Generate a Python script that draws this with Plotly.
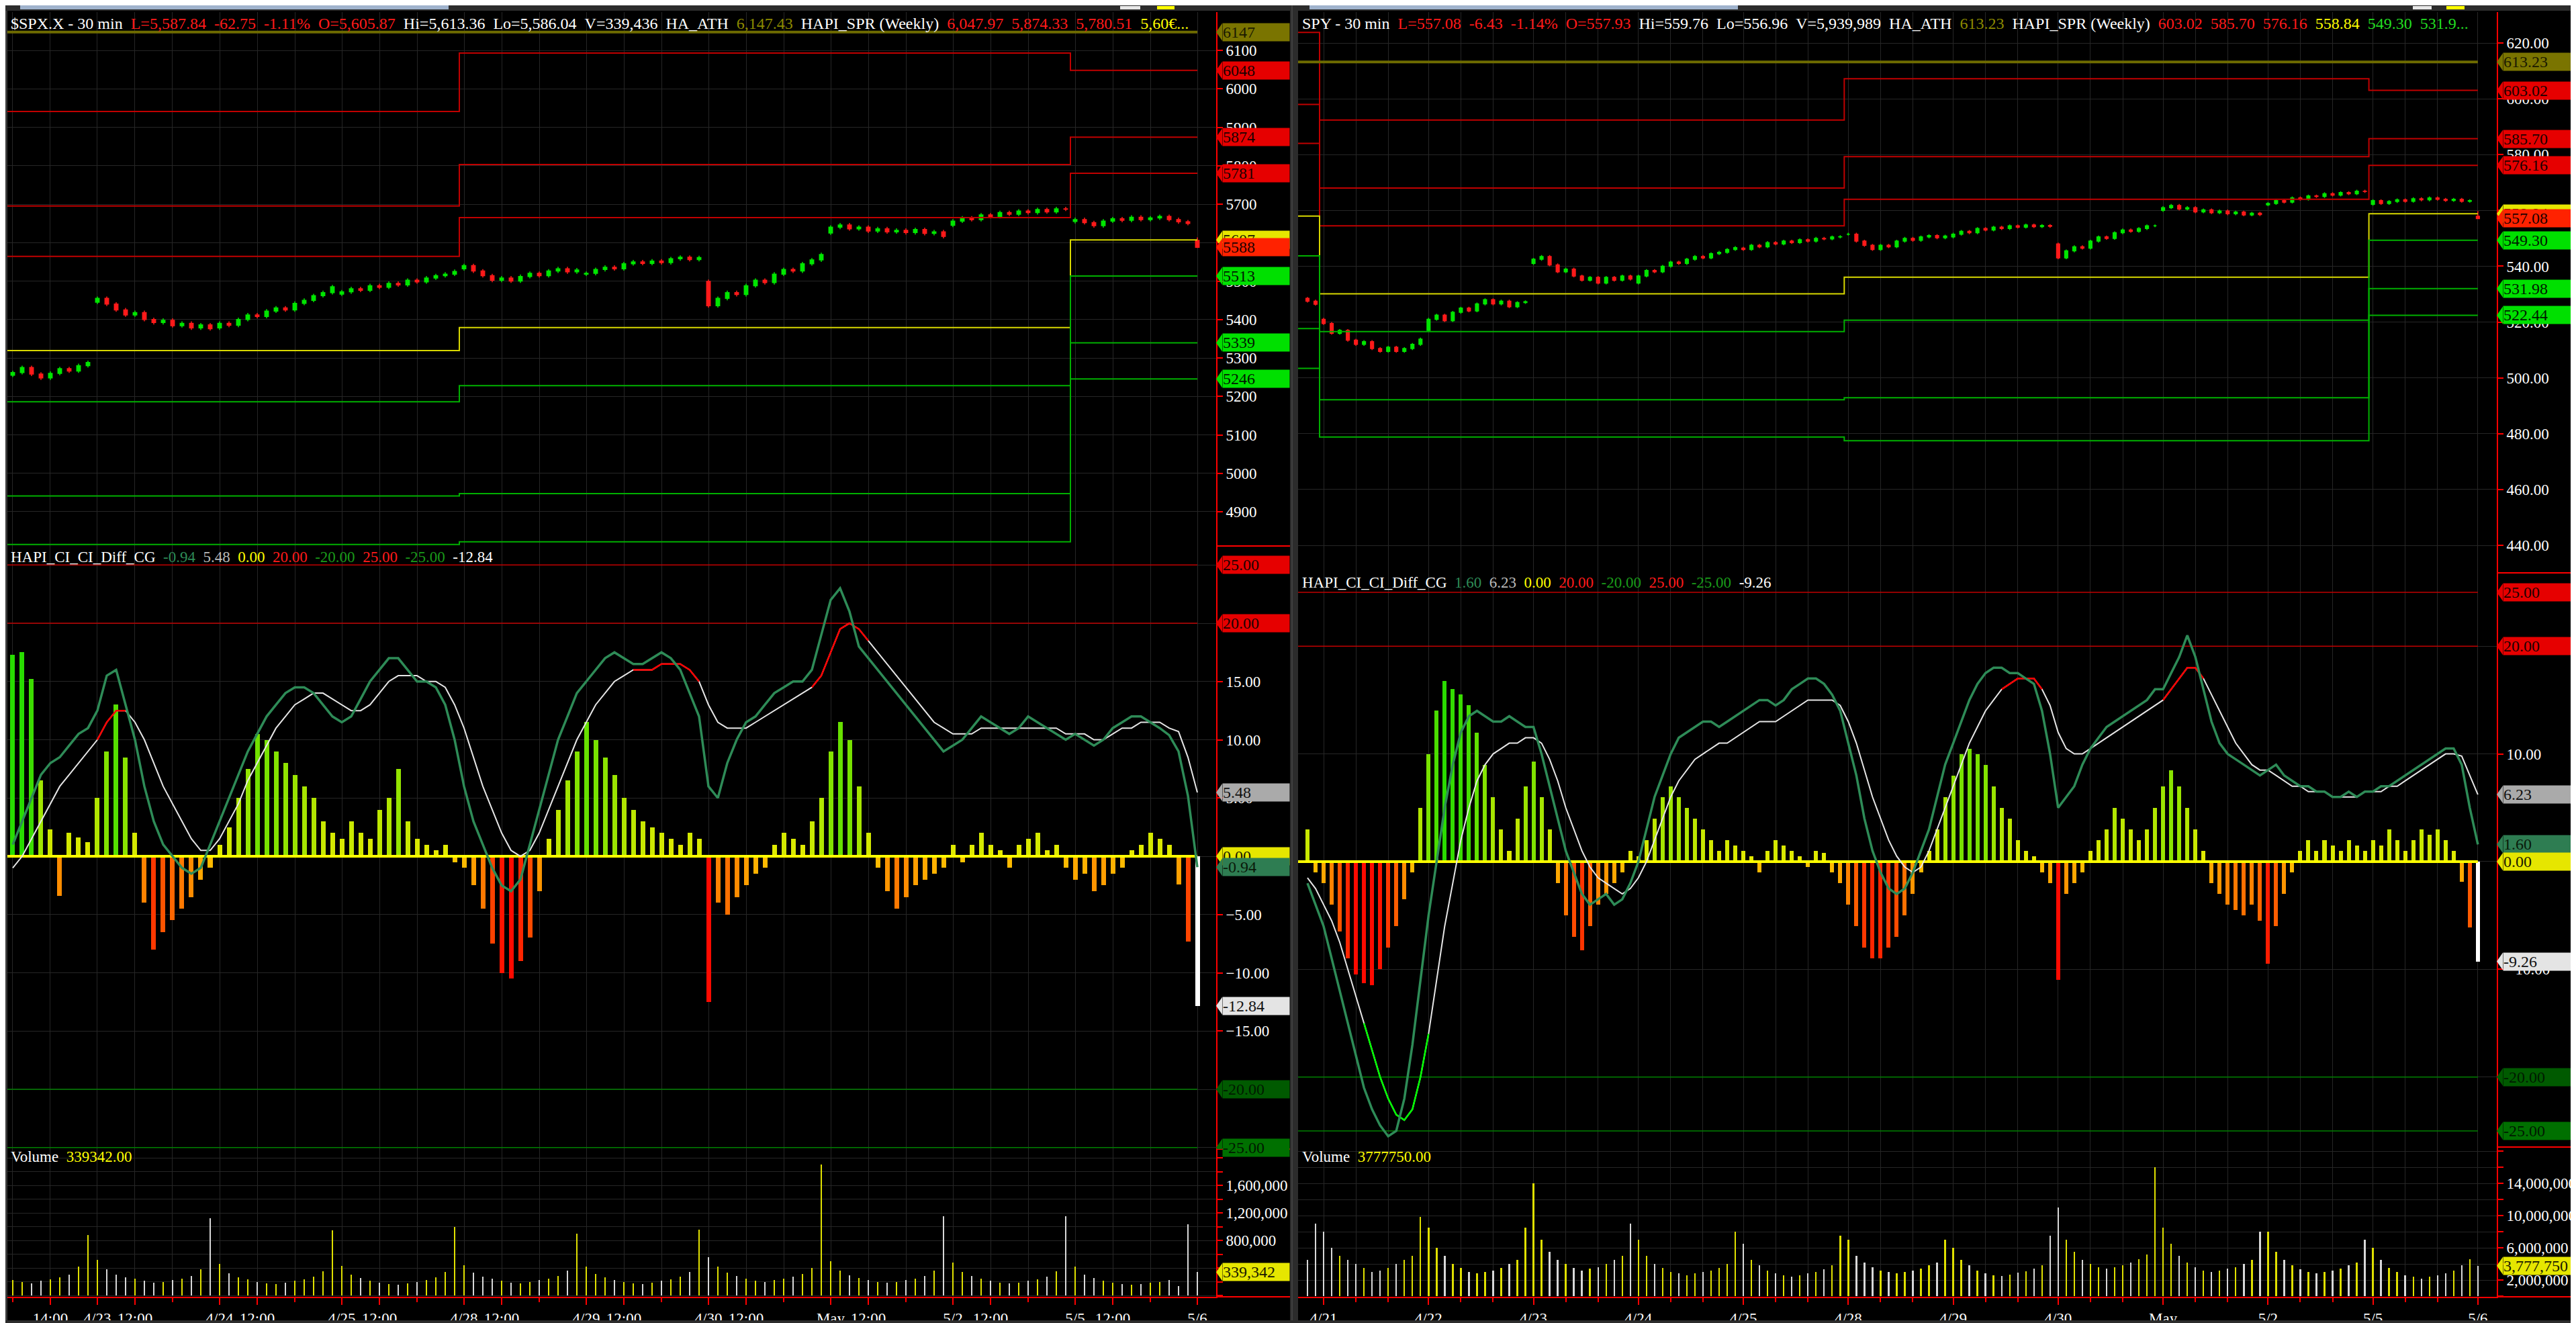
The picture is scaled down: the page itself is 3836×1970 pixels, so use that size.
import plotly.graph_objects as go

W, H = 3836, 1970
FONT = "Liberation Serif"
RED = "#ff1a1a"
OLIVE = "#8c8a00"
YEL = "#ffff00"
GRN = "#22dd22"

SESSION = ["10:00", "10:30", "11:00", "11:30", "12:00", "12:30", "13:00",
           "13:30", "14:00", "14:30", "15:00", "15:30", "16:00"]

# ======================= $SPX.X (left) =======================
spx_day_labels = ["4/22", "4/23", "4/24", "4/25", "4/28", "4/29", "4/30", "May", "5/2", "5/5", "5/6"]
spx_day_open = [5255, 5445, 5378, 5466, 5532, 5518, 5499, 5625, 5645, 5655, 5605.87]
spx_close_by_day = [
    [5262, 5275, 5258, 5248, 5260, 5272, 5266, 5280, 5288],
    [5455, 5440, 5425, 5412, 5418, 5400, 5392, 5398, 5384, 5390, 5378, 5386, 5376],
    [5390, 5385, 5400, 5412, 5408, 5422, 5430, 5425, 5442, 5450, 5462, 5470, 5485],
    [5472, 5480, 5476, 5488, 5484, 5494, 5490, 5502, 5498, 5508, 5514, 5518, 5525],
    [5540, 5526, 5514, 5502, 5508, 5500, 5512, 5520, 5514, 5526, 5532, 5524, 5529],
    [5520, 5530, 5536, 5532, 5545, 5550, 5546, 5552, 5548, 5558, 5562, 5556, 5561],
    [5436, 5455, 5470, 5465, 5488, 5502, 5496, 5518, 5530, 5526, 5545, 5555, 5569],
    [5640, 5646, 5636, 5640, 5630, 5636, 5628, 5632, 5626, 5634, 5624, 5628, 5616],
    [5656, 5664, 5660, 5672, 5668, 5678, 5674, 5682, 5678, 5686, 5680, 5688, 5687],
    [5660, 5652, 5644, 5656, 5662, 5658, 5666, 5660, 5664, 5668, 5660, 5654, 5650],
    [5587.84],
]
spx_wick = 5.0
spx_last_high = 5613.36
spx_last_low = 5586.04

spx_hist_by_day = [
    [17.3, 17.5, 15.2, 6.5, 2.3, -3.4, 2.0, 1.6, 1.2],
    [5, 9, 13, 8.5, 2, -4, -8, -6.5, -5.5, -4.5, -3.5, -2, -1],
    [1, 2.5, 5, 7.5, 10.5, 10, 9, 8, 7, 6, 5, 3, 2],
    [1.5, 3, 2, 1.5, 4, 5, 7.5, 3, 1.5, 1, 0.5, 1, -0.5],
    [-1, -2.5, -4.5, -7.5, -10, -10.5, -9, -7, -3, 1.5, 4, 6.5, 9],
    [11.5, 10, 8.5, 7, 5, 4, 3, 2.5, 2, 1.5, 1, 2, 1.5],
    [-12.5, -4, -5, -3.5, -2.5, -1.5, -1, 1, 2, 1.5, 1, 3, 5],
    [9, 11.5, 10, 6, 2, -1, -3, -4.5, -3.5, -2.5, -2, -1.5, -1],
    [1, -0.5, 1, 2, 1, 0.5, -1, 1, 1.5, 2, 0.5, 1, -1],
    [-2, -1.5, -3, -2.5, -1.5, -1, 0.5, 1, 2, 1.5, 1, -2.4, -7.3],
    [-12.84],
]
spx_fast_by_day = [
    [1, 3, 5, 7, 8, 8.5, 9.5, 10.5, 11],
    [12.5, 15.5, 16, 13, 10, 6, 3, 1, 0, -1, -1.5, -1, 1],
    [3, 5, 7, 9, 10.5, 12, 13, 14, 14.5, 14.5, 14, 13, 12],
    [11.5, 12, 13.5, 15, 16, 17, 17, 16, 15, 15, 14.5, 13, 10],
    [6, 3, 1, -1, -2.5, -3, -2, 1, 4, 7, 10, 12, 14],
    [15, 16, 17, 17.5, 17, 16.5, 16.5, 17, 17.5, 17, 16, 14, 12],
    [6, 5, 8, 10, 11.5, 12, 13, 14, 14.5, 15, 15, 16, 19],
    [22, 23, 21, 18, 17, 16, 15, 14, 13, 12, 11, 10, 9],
    [9.5, 10, 11, 12, 11.5, 11, 10.5, 11, 12, 11.5, 11, 10.5, 10],
    [10.5, 10, 9.5, 10, 11, 11.5, 12, 12, 11.5, 11, 10.4, 9, 5.2],
    [-0.94],
]
spx_slow_by_day = [
    [-1, 0, 1.5, 3, 4.5, 6, 7, 8, 9],
    [10, 11.5, 12.5, 12.5, 11.5, 10, 8, 6, 4.5, 3, 1.5, 0.5, 0.5],
    [1.5, 3, 4.5, 6.5, 8, 9.5, 11, 12, 13, 13.5, 14, 14, 13.5],
    [13, 12.5, 12.5, 13, 14, 15, 15.5, 15.5, 15.5, 15, 15, 14.5, 13],
    [11, 8.5, 6, 4, 2, 0.5, 0, 0.5, 2, 4, 6, 8, 10],
    [11.5, 13, 14, 15, 15.5, 16, 16, 16, 16.5, 16.5, 16.5, 16, 15],
    [13, 11.5, 11, 11, 11, 11.5, 12, 12.5, 13, 13.5, 14, 14.5, 15.5],
    [17.5, 19.5, 20, 19.5, 18.5, 17.5, 16.5, 15.5, 14.5, 13.5, 12.5, 11.5, 11],
    [10.5, 10.5, 10.5, 11, 11, 11, 11, 11, 11, 11, 11, 11, 10.5],
    [10.5, 10.5, 10, 10, 10.5, 11, 11, 11.5, 11.5, 11.5, 11, 10.7, 8.5],
    [5.48],
]
spx_slow_red_ranges = [(9, 12), (66, 73), (85, 91)]
spx_vol_k = [
    [220, 200, 180, 210, 230, 260, 300, 420, 880],
    [520, 380, 300, 260, 240, 210, 190, 200, 220, 240, 280, 380, 1120],
    [460, 320, 260, 230, 200, 180, 170, 190, 210, 230, 270, 350, 950],
    [430, 300, 250, 210, 190, 170, 160, 180, 200, 220, 260, 340, 1000],
    [440, 330, 270, 240, 210, 190, 180, 200, 220, 240, 280, 360, 900],
    [420, 310, 260, 220, 200, 180, 170, 190, 210, 230, 270, 340, 960],
    [560, 420, 330, 280, 240, 210, 200, 220, 240, 270, 310, 400, 1900],
    [500, 360, 290, 250, 220, 200, 190, 200, 220, 240, 280, 360, 1150],
    [480, 340, 280, 240, 210, 190, 180, 190, 210, 230, 270, 350, 1150],
    [420, 300, 250, 210, 190, 170, 160, 170, 190, 200, 220, 137, 1034],
    [339.342],
]
spx_ath = 6147.43
spx_week_bars = [48, 65, 14]
# red1, red2, red3, yellow, green1, green2, green3
spx_levels = [
    [5941, 5695, 5564, 5319, 5186, 4941, 4815],
    [6093, 5803, 5665, 5379, 5228, 4947, 4822],
    [6047.97, 5874.33, 5780.51, 5606.85, 5513.03, 5339.39, 5245.57],
]

# ======================= SPY (right) =======================
spy_day_labels = ["4/17", "4/21", "4/22", "4/23", "4/24", "4/25", "4/28", "4/29", "4/30", "May", "5/2", "5/5", "5/6"]
spy_day_open = [528.5, 521, 517, 541, 534, 546.5, 551.5, 550.5, 548, 560, 562, 562.2, 557.93]
spy_close_by_day = [
    [527.5, 526.4],
    [519.5, 516, 517, 513.5, 512, 513, 510.5, 509.5, 511, 509.5, 510.5, 512, 513.9],
    [521, 522.5, 520.5, 523.5, 525, 524, 526.5, 528, 526.5, 527.5, 525.5, 527, 527.3],
    [542.5, 543.5, 540.5, 538, 539, 536.5, 535, 536, 534, 536, 535, 536.5, 535.4],
    [536.5, 538.5, 538, 540, 541.5, 541, 542.5, 543.5, 543, 544.5, 545, 546, 546.7],
    [546, 547.5, 547, 548.5, 548, 549, 548.5, 549.5, 549, 550, 549.8, 550.5, 550.6],
    [551.5, 549, 547.5, 546, 547.5, 547, 549, 550, 549.3, 550.5, 551, 550.2, 550.8],
    [551.5, 552.5, 552, 553.5, 553, 554, 553.5, 554.5, 554, 554.8, 554.2, 554.6, 554.3],
    [543, 545.5, 547, 546.5, 549, 550.5, 550, 552, 553, 552.5, 553.5, 554.5, 554.5],
    [561, 561.8, 560.5, 561, 559.5, 560.2, 559.2, 559.8, 558.8, 559.4, 558.4, 559, 558.5],
    [562.5, 563.5, 563, 564.5, 564, 565.2, 565, 566, 565.5, 566.4, 566, 566.9, 566.8],
    [563.5, 562.5, 563.2, 563.8, 563.3, 564.2, 563.8, 564.5, 564, 563.6, 564, 563.3, 563.5],
    [557.08],
]
spy_wick = 0.5
spy_last_high = 559.76
spy_last_low = 556.96

spy_hist_by_day = [
    [3, -1],
    [-2, -4, -6.5, -9, -10.5, -11.3, -11.5, -10, -8, -6, -3.5, -1, 5],
    [10, 14, 16.8, 16, 15.5, 14.5, 12, 9, 6, 3, 1, 4, 7],
    [9.3, 6, 3, -2, -5, -7, -8.2, -6, -4, -3, -2, -1, 1],
    [0.5, 2, 4, 6, 7, 6, 5, 4, 3, 2, 1, 2, 1.5],
    [1, 0.5, -1, 1, 2, 1.5, 1, 0.5, -0.5, 1, 0.8, -1, -2],
    [-4, -6, -8, -9, -9, -8, -7, -5, -3, -1, 1, 3, 6],
    [8, 10, 10.5, 10, 9, 7, 5, 4, 2, 1, 0.5, -1, -2],
    [-11, -3, -2, -1, 1, 2, 3, 5, 4, 3, 2, 3, 5],
    [7, 8.5, 7, 5, 3, 1, -2, -3, -4, -4.5, -5, -4, -5.5],
    [-9.5, -6, -3, -1, 1, 2, 1, 2, 1.5, 1, 2, 1.5, 1],
    [2, 1.5, 3, 2, 1, 2, 3, 2.5, 3, 2, 1, -1.9, -6.1],
    [-9.26],
]
spy_fast_by_day = [
    [-2, -4],
    [-6, -9, -12, -15, -18, -21, -23, -24.5, -25.5, -25, -22, -17, -11],
    [-5, 0, 5, 9, 12, 13.5, 14, 13.5, 13, 13, 13.5, 13, 12.5],
    [12.5, 10, 7, 4, 1, -1, -3, -4, -3.5, -3, -4, -3.5, -2],
    [0, 3, 6, 8, 10, 11.5, 12, 12.5, 13, 13, 12.5, 13, 13.5],
    [14, 14.5, 15, 15, 14.5, 15, 16, 16.5, 17, 17, 16.5, 15.5, 14],
    [11, 8, 4, 1, -1, -2.5, -3, -2.5, -1, 1, 3, 6, 9],
    [11, 13, 15, 16.5, 17.5, 18, 18, 17.5, 17.5, 17, 16.5, 14, 10],
    [5, 6, 7, 9, 10.5, 11.5, 12.5, 13, 13.5, 14, 14.5, 15, 16],
    [16, 17.5, 19, 21, 19, 16, 13, 11, 10, 9.5, 9, 8.5, 8],
    [8.5, 9, 8, 7.5, 7, 7, 6.5, 6.5, 6, 6, 6.5, 6, 6.5],
    [6.5, 7, 7, 7.5, 8, 8.5, 9, 9.5, 10, 10.5, 10.5, 9, 5],
    [1.6],
]
spy_slow_by_day = [
    [-1.5, -2.5],
    [-4, -5.5, -7.5, -10, -12.5, -15, -17.5, -20, -22, -23.5, -24, -23, -20],
    [-16, -11, -6, -2, 2, 5, 7.5, 9, 10, 10.5, 11, 11, 11.5],
    [11.5, 11, 9.5, 7.5, 5, 3, 1, -0.5, -1.5, -2, -2.5, -3, -2.5],
    [-1.5, 0, 2, 4, 6, 7.5, 8.5, 9.5, 10, 10.5, 11, 11, 11.5],
    [12, 12.5, 13, 13, 13, 13.5, 14, 14.5, 15, 15, 15, 15, 14.5],
    [13, 11, 8.5, 6, 4, 2, 0.5, -0.5, -1, -0.5, 1, 3, 5],
    [7, 9, 11, 12.5, 14, 15, 16, 16.5, 17, 17, 17, 16, 14.5],
    [12, 10.5, 10, 10, 10.5, 11, 11.5, 12, 12.5, 13, 13.5, 14, 14.5],
    [15, 16, 17, 18, 18, 17, 15.5, 14, 12.5, 11, 10, 9, 8.5],
    [8.5, 8, 7.5, 7, 7, 6.5, 6.5, 6.5, 6, 6, 6, 6, 6.5],
    [6.5, 6.5, 7, 7, 7.5, 8, 8.5, 9, 9.5, 10, 10, 9.8, 8],
    [6.23],
]
spy_slow_red_ranges = [(86, 91), (106, 111)]
spy_slow_green_ranges = [(7, 15)]
spy_vol_m = [
    [4.5, 9],
    [8, 6, 5, 4.5, 4, 3.5, 3, 3.2, 3.5, 4, 4.5, 5, 9.8],
    [8.5, 6, 5, 4, 3.5, 3, 2.8, 3, 3.2, 3.5, 4, 4.5, 8.5],
    [14, 7, 5.5, 4.5, 4, 3.5, 3.2, 3.4, 3.6, 4, 4.5, 5, 9],
    [7, 5, 4, 3.5, 3, 2.8, 2.6, 2.8, 3, 3.2, 3.5, 4, 8],
    [6.5, 4.5, 3.8, 3.2, 2.8, 2.6, 2.4, 2.6, 2.8, 3, 3.3, 3.8, 7.5],
    [7, 5, 4.2, 3.6, 3.2, 3, 2.8, 3, 3.2, 3.4, 3.8, 4.2, 7],
    [6, 4.5, 3.8, 3.2, 2.8, 2.6, 2.5, 2.7, 2.9, 3.1, 3.4, 3.8, 7.5],
    [11, 7, 5.5, 4.5, 4, 3.6, 3.4, 3.6, 3.8, 4.2, 4.6, 5.2, 16],
    [8.5, 6.5, 5, 4.2, 3.6, 3.2, 3, 3.2, 3.4, 3.6, 4, 4.5, 8],
    [8, 5.5, 4.5, 3.8, 3.3, 3, 2.8, 3, 3.2, 3.4, 3.8, 4.2, 7],
    [6, 4.5, 3.5, 3, 2.6, 2.4, 2.2, 2.4, 2.6, 2.8, 3.2, 3.8, 4.6],
    [3.77775],
]
spy_ath = 613.23
spy_week_bars = [2, 65, 65, 14]
spy_levels = [
    [623.8, 598.0, 584.0, 558.0, 543.7, 517.7, 503.4],
    [592.4, 568.0, 554.5, 530.1, 516.6, 492.2, 478.8],
    [607.2, 579.3, 564.0, 536.1, 520.7, 492.9, 477.5],
    [603.02, 585.70, 576.16, 558.84, 549.30, 531.98, 522.44],
]

# header texts
spx_header = [("$SPX.X - 30 min", "white"),
              ("L=5,587.84  -62.75  -1.11%  O=5,605.87", RED),
              ("Hi=5,613.36  Lo=5,586.04  V=339,436  HA_ATH", "white"),
              ("6,147.43", OLIVE), ("HAPI_SPR (Weekly)", "white"),
              ("6,047.97  5,874.33  5,780.51", RED), ("5,60\u20ac...", YEL)]
spy_header = [("SPY - 30 min", "white"),
              ("L=557.08  -6.43  -1.14%  O=557.93", RED),
              ("Hi=559.76  Lo=556.96  V=5,939,989  HA_ATH", "white"),
              ("613.23", OLIVE), ("HAPI_SPR (Weekly)", "white"),
              ("603.02  585.70  576.16", RED), ("558.84", YEL), ("549.30  531.9...", GRN)]

# axis tick values (labels shown on the value axes)
spx_price_ticks = [4900, 5000, 5100, 5200, 5300, 5400, 5500, 5600, 5700, 5800, 5900, 6000, 6100]
spx_ind_ticks = [15, 10, 5, -5, -10, -15]
spx_vol_ticks = [400000, 800000, 1200000, 1600000]
spy_price_ticks = [440, 460, 480, 500, 520, 540, 560, 580, 600, 620]
spy_ind_ticks = [10, -10]
spy_vol_ticks = [2000000, 6000000, 10000000, 14000000]


# ======================= helpers =======================
def flat(lst):
    return [v for d in lst for v in d]


def ohlc(day_open, closes_by_day, wick, last_hi, last_lo):
    o, h, l, c = [], [], [], []
    for do, closes in zip(day_open, closes_by_day):
        prev = do
        for cl in closes:
            o.append(prev)
            c.append(cl)
            h.append(max(prev, cl) + wick)
            l.append(min(prev, cl) - wick)
            prev = cl
    h[-1] = last_hi
    l[-1] = last_lo
    return o, h, l, c


def bar_times(closes_by_day):
    times = []
    for d in closes_by_day:
        n = len(d)
        if n == 13 or len(times) > 0:
            times.append(SESSION[:n])
        else:
            times.append(SESSION[13 - n:])
    return times


def hist_colors(vals):
    cols = []
    for v in vals:
        if v >= 0:
            t = min(v / 17.0, 1.0)
            cols.append(f"rgb({int(235 - 195 * t)},{int(235 - 15 * t)},0)")
        else:
            t = min(-v / 10.5, 1.0)
            cols.append(f"rgb(255,{int(205 - 195 * t)},0)")
    cols[-1] = "#ffffff"
    return cols


def seg(vals, ranges):
    out = [None] * len(vals)
    for a, b in ranges:
        for i in range(a, b + 1):
            out[i] = vals[i]
    return out


def span(t, c):
    return f'<span style="color:{c}">{t.replace("  ", "&nbsp;&nbsp;")}</span>'


def header_html(parts):
    return "&nbsp;&nbsp;".join(span(t, c) for t, c in parts)


def pdom(top, bot):
    return [1 - bot / H, 1 - top / H]


# ======================= geometry =======================
L_X = (3, 1803); R_X = (1925, 3710)
L_PANES = [(10, 805), (805, 1703), (1703, 1923)]
R_PANES = [(10, 845), (845, 1700), (1700, 1923)]
L_XR = [-0.571, 128.0]; R_XR = [-1.165, 147.34]
L_YR = [[4810.9, 6199.6], [-25.13, 26.63], [-19500, 2126800]]
R_YR = [[430.15, 631.07], [-26.50, 26.81], [-83000, 18500000]]

fig = go.Figure()
GRID = "#262626"


def build_panel(side, day_labels, day_open, closes, wick, lhi, llo, hist, fast, slow,
                red_ranges, green_ranges, vol, ath, week_bars, levels, xs):
    ax = ["", "2", "3"] if side == "L" else ["4", "5", "6"]
    o, h, l, c = ohlc(day_open, closes, wick, lhi, llo)
    n = len(c)
    idx = list(range(n))
    xmin = (L_XR if side == "L" else R_XR)[0]
    # weekly level lines
    cols = ["#c00000", "#c00000", "#c00000", "#d8d800", "#00b000", "#00b000", "#00b000"]
    for k in range(7):
        px, py = [], []
        s = 0
        for w, nb in enumerate(week_bars):
            x0 = xmin if w == 0 else s - 0.5
            x1 = (n - 1) if w == len(week_bars) - 1 else s + nb - 0.5
            px += [x0, x1]
            py += [levels[w][k], levels[w][k]]
            s += nb
        fig.add_trace(go.Scatter(x=px, y=py, mode="lines", line=dict(color=cols[k], width=2),
                                 xaxis="x" + ax[0], yaxis="y" + ax[0], hoverinfo="skip"))
    fig.add_trace(go.Scatter(x=[xmin, n - 1], y=[ath, ath], mode="lines",
                             line=dict(color="#6e6b00", width=4),
                             xaxis="x" + ax[0], yaxis="y" + ax[0], hoverinfo="skip"))
    fig.add_trace(go.Candlestick(
        x=idx, open=o, high=h, low=l, close=c, whiskerwidth=0,
        increasing=dict(line=dict(color="#00e600", width=1.5), fillcolor="#00e600"),
        decreasing=dict(line=dict(color="#ff1a1a", width=1.5), fillcolor="#ff1a1a"),
        xaxis="x" + ax[0], yaxis="y" + ax[0], hoverinfo="skip"))
    # indicator
    hv = flat(hist)
    fig.add_trace(go.Bar(x=idx, y=hv, marker=dict(color=hist_colors(hv), line=dict(width=0)),
                         width=0.5, xaxis="x" + ax[1], yaxis="y" + ax[1], hoverinfo="skip"))
    for lv, lc, lw in [(25, "#c00000", 1.5), (20, "#c00000", 1.5), (-20, "#008000", 1.5),
                       (-25, "#008000", 1.5), (0, "#ffff00", 4)]:
        fig.add_trace(go.Scatter(x=[xmin, n - 1], y=[lv, lv], mode="lines", line=dict(color=lc, width=lw),
                                 xaxis="x" + ax[1], yaxis="y" + ax[1], hoverinfo="skip"))
    sv = flat(slow)
    fv = flat(fast)
    fig.add_trace(go.Scatter(x=idx, y=sv, mode="lines", line=dict(color="#e6e6e6", width=2),
                             xaxis="x" + ax[1], yaxis="y" + ax[1], hoverinfo="skip"))
    fig.add_trace(go.Scatter(x=idx, y=seg(sv, red_ranges), mode="lines", line=dict(color="#ff0000", width=2.5),
                             xaxis="x" + ax[1], yaxis="y" + ax[1], hoverinfo="skip"))
    fig.add_trace(go.Scatter(x=idx, y=seg(sv, green_ranges), mode="lines", line=dict(color="#00ff00", width=2.5),
                             xaxis="x" + ax[1], yaxis="y" + ax[1], hoverinfo="skip"))
    fig.add_trace(go.Scatter(x=idx, y=fv, mode="lines", line=dict(color="#2e8b57", width=3.5),
                             xaxis="x" + ax[1], yaxis="y" + ax[1], hoverinfo="skip"))
    # volume
    vv = [v * xs for v in flat(vol)]
    vcol = ["#e0e000" if cc >= oo else "#d8d8d8" for oo, cc in zip(o, c)]
    fig.add_trace(go.Bar(x=idx, y=vv, marker=dict(color=vcol, line=dict(width=0)), width=0.2,
                         xaxis="x" + ax[2], yaxis="y" + ax[2], hoverinfo="skip"))
    return o, c, hv, fv, sv, vv


spx = build_panel("L", spx_day_labels, spx_day_open, spx_close_by_day, spx_wick, spx_last_high, spx_last_low,
                  spx_hist_by_day, spx_fast_by_day, spx_slow_by_day, spx_slow_red_ranges, [], spx_vol_k,
                  spx_ath, spx_week_bars, spx_levels, 1000)
spy = build_panel("R", spy_day_labels, spy_day_open, spy_close_by_day, spy_wick, spy_last_high, spy_last_low,
                  spy_hist_by_day, spy_fast_by_day, spy_slow_by_day, spy_slow_red_ranges, spy_slow_green_ranges,
                  spy_vol_m, spy_ath, spy_week_bars, spy_levels, 1e6)


# ======================= axes =======================
def xticks(day_labels, closes_by_day, left):
    times = bar_times(closes_by_day)
    major_v, major_t, minor_v = [], [], []
    i = 0
    for k, (lab, tl) in enumerate(zip(day_labels, times)):
        partial = len(tl) < 13 and k == 0
        for t in tl:
            if partial:
                if left and t == "14:00":
                    major_v.append(i); major_t.append("14:00")
                elif t in ("12:00", "14:00", "10:00"):
                    minor_v.append(i)
            elif t == "10:00":
                major_v.append(i); major_t.append(lab)
            elif t == "12:00":
                if left:
                    major_v.append(i); major_t.append("12:00")
                else:
                    minor_v.append(i)
            elif t == "14:00":
                minor_v.append(i)
            i += 1
    return major_v, major_t, minor_v


lx = xticks(spx_day_labels, spx_close_by_day, True)
rx = xticks(spy_day_labels, spy_close_by_day, False)

layout = dict(width=W, height=H, margin=dict(l=0, r=0, t=0, b=0), paper_bgcolor="black",
              plot_bgcolor="black", showlegend=False, boxgap=0.45, bargap=0,
              font=dict(family=FONT, color="white", size=22))


def xax(dom, rng, ticks, anchor, bottom, match=None):
    d = dict(domain=[dom[0] / W, dom[1] / W], range=rng, anchor=anchor, fixedrange=True,
             tickvals=ticks[0], ticktext=ticks[1], showgrid=True, gridcolor=GRID, gridwidth=1,
             zeroline=False, rangeslider=dict(visible=False),
             minor=dict(tickvals=ticks[2], showgrid=True, gridcolor=GRID, gridwidth=1,
                        ticks="outside" if bottom else "", ticklen=6, tickcolor="red", tickwidth=2))
    if match:
        d["matches"] = match
    if bottom:
        d.update(showticklabels=True, ticks="outside", ticklen=10, tickcolor="red", tickwidth=2,
                 showline=True, linecolor="red", linewidth=2, tickfont=dict(size=23, color="white"))
    else:
        d.update(showticklabels=False, ticks="", showline=False)
    return d


def yax(pane, rng, anchor, fmt, tickvals, grid_dtick, minor_dtick=None):
    d = dict(domain=pdom(*pane), range=rng, anchor=anchor, side="right", fixedrange=True,
             showline=True, linecolor="red", linewidth=2, ticks="outside", ticklen=8,
             tickcolor="red", tickwidth=2, showgrid=True, gridcolor=GRID, gridwidth=1,
             zeroline=False, tickformat=fmt, tickvals=tickvals,
             tickfont=dict(size=23, color="white"))
    d["minor"] = dict(dtick=minor_dtick if minor_dtick else grid_dtick, tick0=0,
                      ticks="outside" if minor_dtick else "", ticklen=8, tickcolor="red",
                      tickwidth=2, showgrid=True, gridcolor=GRID)
    return d


layout["xaxis"] = xax(L_X, L_XR, lx, "y", False)
layout["xaxis2"] = xax(L_X, L_XR, lx, "y2", False, "x")
layout["xaxis3"] = xax(L_X, L_XR, lx, "y3", True, "x")
layout["xaxis4"] = xax(R_X, R_XR, rx, "y4", False)
layout["xaxis5"] = xax(R_X, R_XR, rx, "y5", False, "x4")
layout["xaxis6"] = xax(R_X, R_XR, rx, "y6", True, "x4")
layout["yaxis"] = yax(L_PANES[0], L_YR[0], "x", "d", spx_price_ticks, 100)
layout["yaxis2"] = yax(L_PANES[1], L_YR[1], "x2", ".2f", spx_ind_ticks, 5)
layout["yaxis3"] = yax(L_PANES[2], L_YR[2], "x3", ",d", spx_vol_ticks, 200000, 200000)
layout["yaxis4"] = yax(R_PANES[0], R_YR[0], "x4", ".2f", spy_price_ticks, 20)
layout["yaxis5"] = yax(R_PANES[1], R_YR[1], "x5", ".2f", spy_ind_ticks, 10)
layout["yaxis6"] = yax(R_PANES[2], R_YR[2], "x6", ",d", spy_vol_ticks, 2000000, 2000000)
fig.update_layout(**layout)

# ======================= decorations =======================
shapes = []


def prect(x0, y0, x1, y1, col):
    shapes.append(dict(type="rect", xref="paper", yref="paper", x0=x0 / W, x1=x1 / W,
                       y0=1 - y1 / H, y1=1 - y0 / H, fillcolor=col, line=dict(width=0), layer="above"))


def pline(x0, y0, x1, y1, col, w=2):
    shapes.append(dict(type="line", xref="paper", yref="paper", x0=x0 / W, x1=x1 / W,
                       y0=1 - y0 / H, y1=1 - y1 / H, line=dict(color=col, width=w), layer="above"))


prect(0, 0, 3, H, "#3a3a3a")
prect(1913, 0, 1925, H, "#2c2c2c")
pline(1916, 0, 1916, H, "#555555", 1)
prect(3832, 0, W, H, "#2c2c2c")
prect(0, 1958, W, H, "#2c2c2c")
pline(0, 1963, W, 1963, "#666666", 1)
for x0, x1, blue, white, yel in [(0, 1913, (22, 660), (1660, 1690), (1715, 1741)),
                                 (1925, 3832, (1942, 2580), (3585, 3613), (3635, 3662))]:
    prect(x0, 0, x1, 8, "#2c2c2c")
    prect(blue[0], 0, blue[1], 6, "#9fb2cc")
    prect(white[0], 1, white[1], 6, "#e8e8e8")
    prect(yel[0], 1, yel[1], 6, "#ffff00")
for y in (805, 1703, 1923):
    pline(1803, y, 1913, y, "red", 2)
for y in (845, 1700, 1923):
    pline(3710, y, 3832, y, "red", 2)
fig.update_layout(shapes=shapes)


# ======================= value tags =======================
def add_tag(xtip, xend, yref, pane, rng, v, text, fill, tcol):
    ppu = (pane[1] - pane[0]) / (rng[1] - rng[0])
    hh = 13.0 / ppu
    xb = xtip + 9
    fig.add_shape(type="path", xref="paper", yref=yref,
                  path=f"M {xtip / W},{v} L {xb / W},{v + hh} L {xb / W},{v - hh} Z",
                  fillcolor=fill, line=dict(width=0), layer="above")
    fig.add_annotation(xref="paper", yref=yref, x=xb / W, y=v, xanchor="left", yanchor="middle",
                       text=text, showarrow=False, bgcolor=fill, width=xend - xb - 2, height=26,
                       align="left", borderpad=0, font=dict(family=FONT, size=24, color=tcol))


TAG_RED = "#e60000"; TAG_CUR = "#ff2200"; TAG_YEL = "#e6e600"; TAG_GRN = "#00e000"
TAG_OLV = "#7a7400"; DARK = "#1a0000"


def panel_tags(xtip, xend, ax, panes, rngs, ath, lev, last_c, hv, fv, sv, vv, pfmt):
    p = [("y" + ax[0], panes[0], rngs[0]), ("y" + ax[1], panes[1], rngs[1]), ("y" + ax[2], panes[2], rngs[2])]
    a = p[0]
    add_tag(xtip, xend, *a, ath, pfmt(ath), TAG_OLV, "#1a1a00")
    for k in range(3):
        add_tag(xtip, xend, *a, lev[k], pfmt(lev[k]), TAG_RED, DARK)
    add_tag(xtip, xend, *a, lev[3], pfmt(lev[3]), TAG_YEL, "#1a1a00")
    add_tag(xtip, xend, *a, last_c, pfmt(last_c), TAG_CUR, DARK)
    for k in range(4, 7):
        add_tag(xtip, xend, *a, lev[k], pfmt(lev[k]), TAG_GRN, "#001a00")
    b = p[1]
    add_tag(xtip, xend, *b, 25, "25.00", TAG_RED, DARK)
    add_tag(xtip, xend, *b, 20, "20.00", TAG_RED, DARK)
    add_tag(xtip, xend, *b, sv[-1], f"{sv[-1]:.2f}", "#aaaaaa", "#111111")
    if fv[-1] < 0:
        add_tag(xtip, xend, *b, 0, "0.00", TAG_YEL, "#1a1a00")
        add_tag(xtip, xend, *b, fv[-1], f"{fv[-1]:.2f}", "#2e7d52", "#0a1a0a")
    else:
        add_tag(xtip, xend, *b, fv[-1], f"{fv[-1]:.2f}", "#2e7d52", "#0a1a0a")
        add_tag(xtip, xend, *b, 0, "0.00", TAG_YEL, "#1a1a00")
    add_tag(xtip, xend, *b, hv[-1], f"{hv[-1]:.2f}", "#e4e4e4", "#111111")
    add_tag(xtip, xend, *b, -20, "-20.00", "#005a00", "#001a00")
    add_tag(xtip, xend, *b, -25, "-25.00", "#007000", "#001a00")
    c = p[2]
    add_tag(xtip, xend, *c, vv[-1], f"{vv[-1]:,.0f}", TAG_YEL, "#1a1a00")


panel_tags(1803, 1913, ["", "2", "3"], L_PANES, L_YR, spx_ath, spx_levels[-1], spx[1][-1],
           spx[2], spx[3], spx[4], spx[5], lambda v: f"{v:.0f}")
panel_tags(3710, 3832, ["4", "5", "6"], R_PANES, R_YR, spy_ath, spy_levels[-1], spy[1][-1],
           spy[2], spy[3], spy[4], spy[5], lambda v: f"{v:.2f}")


# ======================= headers =======================
def hdr(x, y, html, size=23):
    fig.add_annotation(xref="paper", yref="paper", x=x / W, y=1 - y / H, xanchor="left", yanchor="middle",
                       text=html, showarrow=False, font=dict(family=FONT, size=size, color="white"))


hdr(6, 27, header_html(spx_header), 24)
hdr(1929, 27, header_html(spy_header), 24)


def ind_header(fv, sv, hv):
    parts = [("HAPI_CI_CI_Diff_CG", "white"), (f"{fv[-1]:.2f}", "#2e8b57"), (f"{sv[-1]:.2f}", "#bbbbbb"),
             ("0.00", YEL), ("20.00", RED), ("-20.00", "#1a9a1a"), ("25.00", RED), ("-25.00", "#1a9a1a"),
             (f"{hv[-1]:.2f}", "white")]
    return header_html(parts)


hdr(6, 821, ind_header(spx[3], spx[4], spx[2]))
hdr(1929, 859, ind_header(spy[3], spy[4], spy[2]))
hdr(6, 1714, header_html([("Volume", "white"), (f"{spx[5][-1]:.2f}", YEL)]))
hdr(1929, 1714, header_html([("Volume", "white"), (f"{spy[5][-1]:.2f}", YEL)]))

fig.write_html("out.html")
